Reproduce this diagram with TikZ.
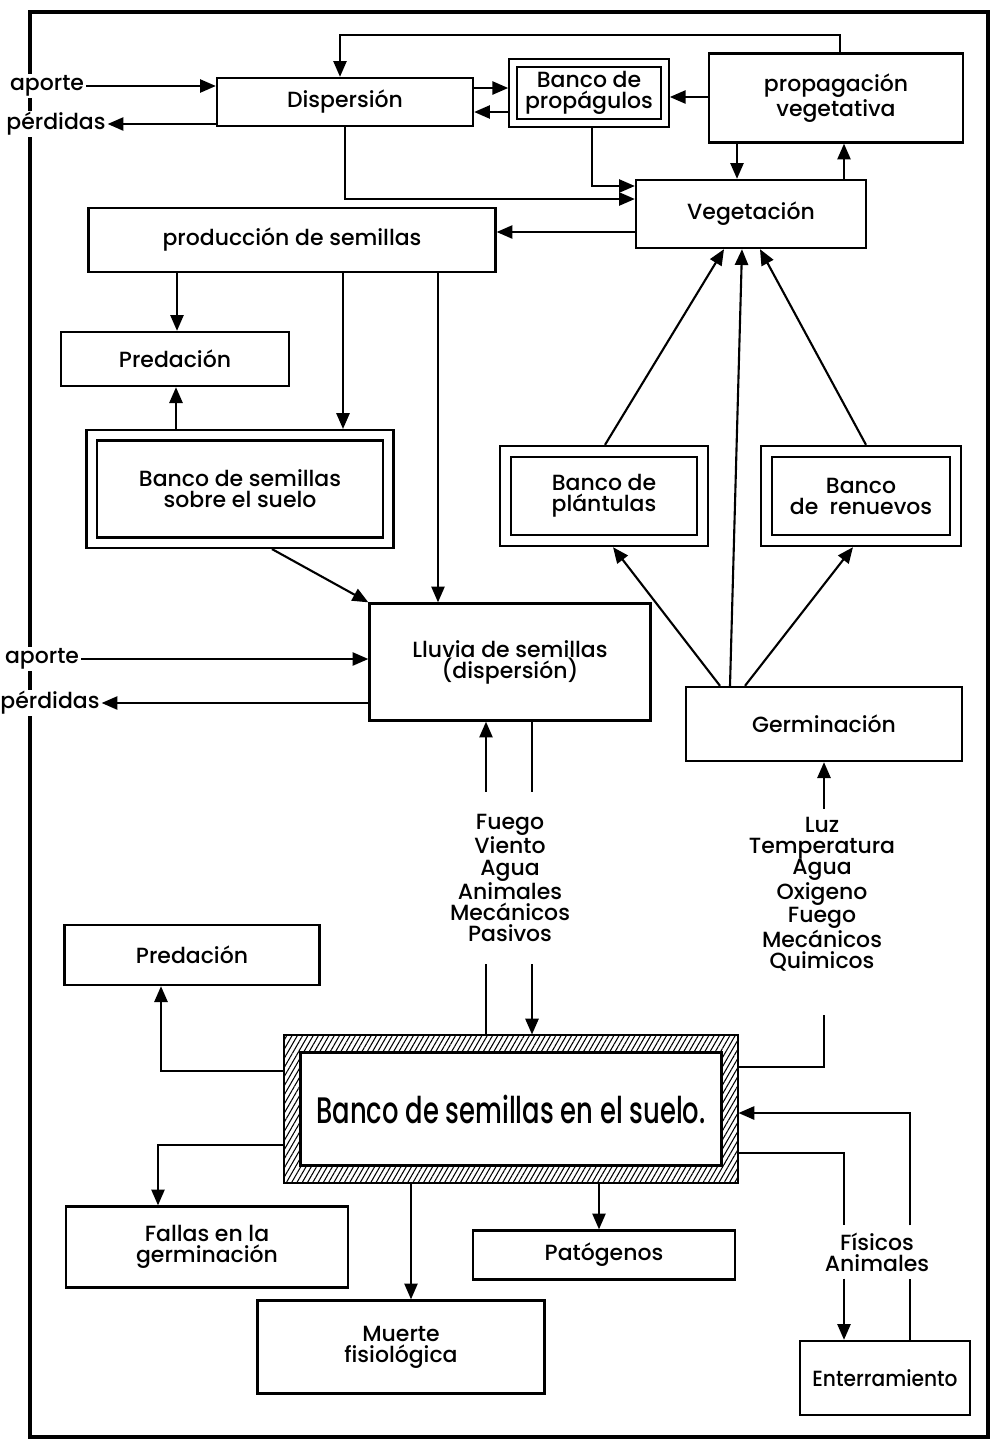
\documentclass[tikz,border=0pt]{standalone}
\usepackage{graphicx}
\usepackage{fontspec}
\setmainfont{Poppins}[UprightFont=*-Medium]
\usetikzlibrary{arrows.meta,patterns.meta}

\begin{document}
\begin{tikzpicture}[x=0.02cm,y=-0.02cm,
  font=\fontsize{12.5}{12}\selectfont,
  caja/.style={draw,line width=1.35pt,align=center},
  doble/.style={draw,line width=1.2pt,double,double distance=#1,align=center,outer sep={1.2pt+#1/2}},
  flecha/.style={line width=1.2pt,-{Triangle[length=9pt,width=7.5pt]}},
  linea/.style={line width=1.2pt},
  etiq/.style={align=center,inner sep=1pt}]
\useasboundingbox (0,0) rectangle (991,1441);
\draw[line width=2.8pt] (30,12) rectangle (988,1437);

% parte alta
\node[caja,minimum width=5.12cm,minimum height=0.96cm] (disp) at (345,102) {Dispersión};
\node[doble=3.4pt,minimum width=3.03cm,minimum height=1.21cm] (bprop) at (589,93) {Banco de\\propágulos};
\node[caja,minimum width=5.08cm,minimum height=1.78cm] (propveg) at (836,98) {propagación\\vegetativa};
\node[caja,minimum width=4.6cm,minimum height=1.36cm] (veg) at (751,214) {Vegetación};
\node[caja,minimum width=8.14cm,minimum height=1.28cm] (prod) at (292,240) {producción de semillas};
\node[caja,minimum width=4.56cm,minimum height=1.08cm] (predA) at (175,359) {Predación};
\node[doble=4.8pt,minimum width=5.93cm,minimum height=2.15cm] (bsobre) at (240,489) {Banco de semillas\\sobre el suelo};
\node[caja,minimum width=5.62cm,minimum height=2.34cm] (lluvia) at (510,662) {Lluvia de semillas\\(dispersión)};
\node[doble=5.2pt,minimum width=3.93cm,minimum height=1.78cm] (bplant) at (604,496) {Banco de\\plántulas};
\node[doble=5.2pt,minimum width=3.79cm,minimum height=1.78cm] (brenu) at (861,496) {Banco\\de~~renuevos};
\node[caja,minimum width=5.52cm,minimum height=1.48cm] (germ) at (824,724) {Germinación};

\node[etiq,fill=white] (aporteA) at (47,86) {aporte};
\node[etiq,fill=white] (perdidasA) at (56,124) {pérdidas};
\node[etiq,fill=white] (aporteB) at (42,659) {aporte};
\node[etiq,fill=white] (perdidasB) at (50,703) {pérdidas};
\node[etiq,inner ysep=0.44cm] (fuerzas) at (510,878) {Fuego\\Viento\\Agua\\Animales\\Mecánicos\\Pasivos};
\node[etiq,inner ysep=0.16cm] (luz) at (822,894) {Luz\\Temperatura\\Agua\\Oxigeno\\Fuego\\Mecánicos\\Quimicos};
\coordinate (luzfin) at (824,1015);

% parte baja
\node[caja,minimum width=5.1cm,minimum height=1.2cm] (predB) at (192,955) {Predación};
\node[draw,line width=1.35pt,minimum width=9.08cm,minimum height=2.96cm,
  pattern={Lines[angle=60,distance=2.6pt,line width=0.6pt]}] (bsuelo) at (511,1109) {};
\node[caja,fill=white,minimum width=8.42cm,minimum height=2.26cm] (bsueloint) at (bsuelo)
  {\scalebox{0.7}[1]{\fontsize{21}{21}\selectfont Banco de semillas en el suelo.}};
\node[caja,minimum width=5.64cm,minimum height=1.62cm] (fallas) at (207,1247) {Fallas en la\\germinación};
\node[caja,minimum width=5.74cm,minimum height=1.86cm] (muerte) at (401,1347) {Muerte\\fisiológica};
\node[caja,minimum width=5.24cm,minimum height=0.98cm] (patog) at (604,1255) {Patógenos};
\node[caja,minimum width=3.4cm,minimum height=1.48cm] (enterr) at (885,1378) {\scalebox{0.92}[1]{Enterramiento}};
\node[etiq,inner ysep=0.14cm] (fisicos) at (877,1252) {Físicos\\Animales};

% conexiones
\draw[flecha] (aporteA) -- (disp.west |- aporteA);
\draw[flecha] (disp.west |- perdidasA) -- (perdidasA);
\draw[flecha] (propveg.north -| 840,0) |- (340,35) -- (disp.north -| 340,0);
\draw[flecha] (disp.east |- 0,88) -- (bprop.west |- 0,88);
\draw[flecha] (bprop.west |- 0,112) -- (disp.east |- 0,112);
\draw[flecha] (propveg.west |- 0,97) -- (bprop.east |- 0,97);
\draw[flecha] (bprop.south -| 592,0) |- (veg.west |- 0,186);
\draw[flecha] (disp.south -| 345,0) |- (veg.west |- 0,199);
\draw[flecha] (veg.west |- 0,232) -- (prod.east |- 0,232);
\draw[flecha] (propveg.south -| 737,0) -- (veg.north -| 737,0);
\draw[flecha] (veg.north -| 844,0) -- (propveg.south -| 844,0);
\draw[flecha] (prod.south -| 177,0) -- (predA.north -| 177,0);
\draw[flecha] (prod.south -| 343,0) -- (bsobre.north -| 343,0);
\draw[flecha] (prod.south -| 438,0) -- (lluvia.north -| 438,0);
\draw[flecha] (bsobre.north -| 176,0) -- (predA.south -| 176,0);
\draw[flecha] (bsobre.south -| 272,0) -- (lluvia.north west);
\draw[flecha] (aporteB) -- (lluvia.west |- aporteB);
\draw[flecha] (lluvia.west |- perdidasB) -- (perdidasB);
\draw[flecha] (bplant.north -| 605,0) -- (veg.south -| 724,0);
\draw[flecha] (germ.north -| 730,0) -- (veg.south -| 742,0);
\draw[flecha] (brenu.north -| 866,0) -- (veg.south -| 760,0);
\draw[flecha] (germ.north -| 720,0) -- (bplant.south -| 613,0);
\draw[flecha] (germ.north -| 745,0) -- (brenu.south -| 853,0);
\draw[flecha] (bsuelo.north -| 486,0) -- (fuerzas.south -| 486,0) (fuerzas.north -| 486,0) -- (lluvia.south -| 486,0);
\draw[flecha] (lluvia.south -| 532,0) -- (fuerzas.north -| 532,0) (fuerzas.south -| 532,0) -- (bsuelo.north -| 532,0);
\draw[linea] (bsuelo.east |- 0,1067) -| (luzfin);
\draw[flecha] (luz.north -| 824,0) -- (germ.south -| 824,0);
\draw[flecha] (bsuelo.west |- 0,1071) -| (predB.south -| 161,0);
\draw[flecha] (bsuelo.west |- 0,1145) -| (fallas.north -| 158,0);
\draw[flecha] (bsuelo.south -| 411,0) -- (muerte.north -| 411,0);
\draw[flecha] (bsuelo.south -| 599,0) -- (patog.north -| 599,0);
\draw[linea] (bsuelo.east |- 0,1153) -| (fisicos.north -| 844,0);
\draw[flecha] (fisicos.south -| 844,0) -- (enterr.north -| 844,0);
\draw[linea] (enterr.north -| 910,0) -- (fisicos.south -| 910,0);
\draw[flecha] (fisicos.north -| 910,0) |- (bsuelo.east |- 0,1113);
\end{tikzpicture}
\end{document}
